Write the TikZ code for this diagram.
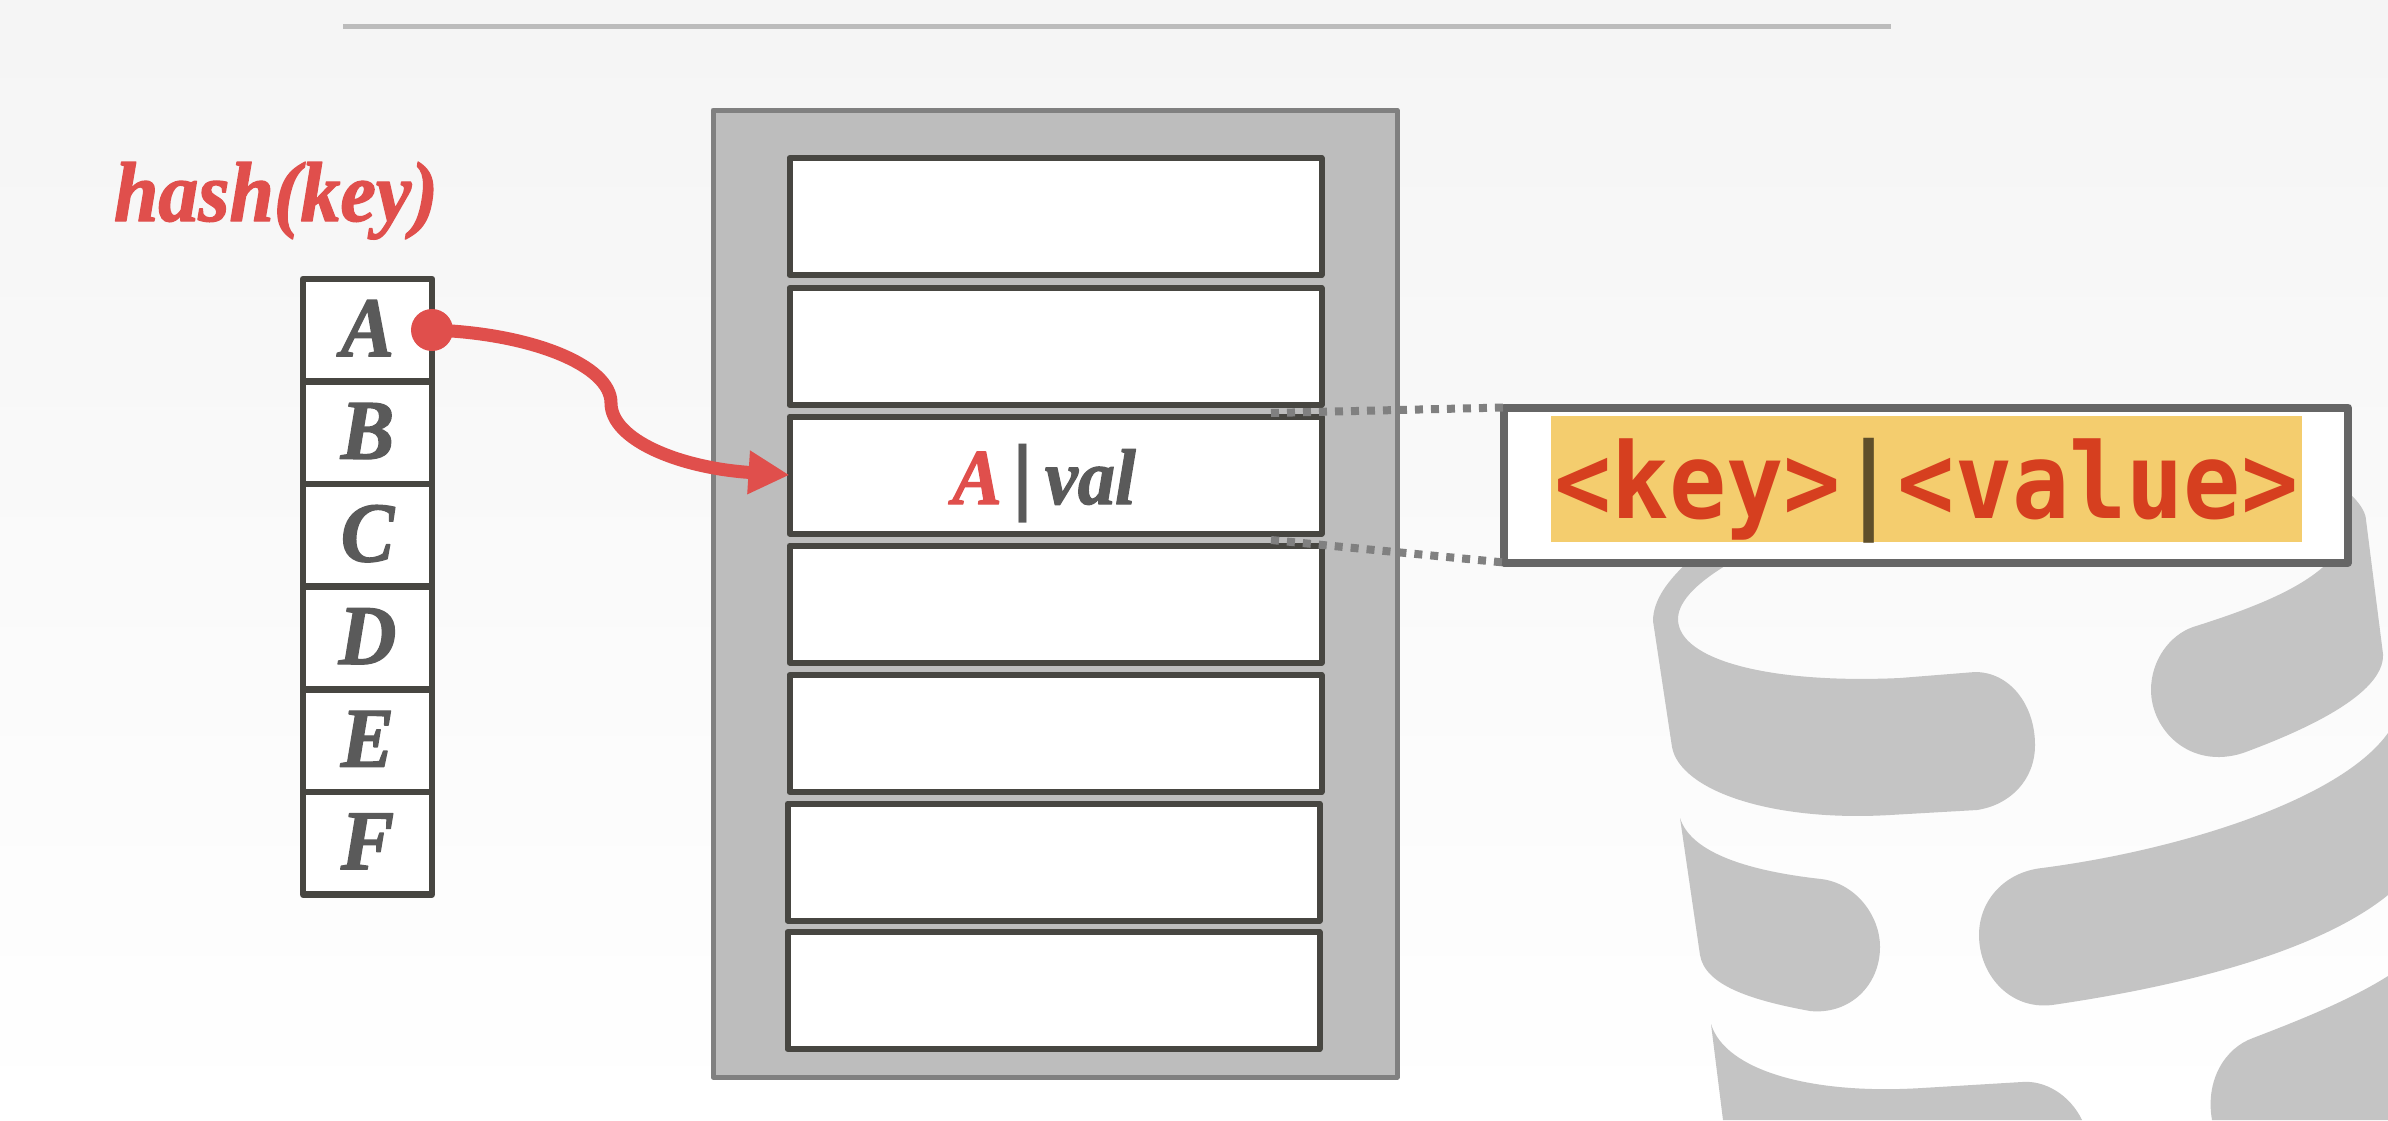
\documentclass[tikz,border=0pt]{standalone}
\usepackage{fontspec}
\setmainfont{Liberation Serif}[FakeStretch=0.94,BoldItalicFeatures={FakeBold=1.6}]
\newfontfamily\kvfont{DejaVu Sans Mono}[FakeStretch=0.905]
\usetikzlibrary{positioning,arrows.meta}
\definecolor{hashred}{HTML}{E04F4C}
\definecolor{inkdark}{HTML}{474641}
\definecolor{inkgrey}{HTML}{5A5A5A}
\definecolor{pagegrey}{HTML}{BDBDBD}
\definecolor{pageedge}{HTML}{808080}
\definecolor{dbgrey}{HTML}{C4C4C4}
\definecolor{rulegrey}{HTML}{BCBCBC}
\definecolor{kvedge}{HTML}{666666}
\definecolor{kvfill}{HTML}{F4CD6E}
\definecolor{kvred}{HTML}{D63F1F}
\definecolor{kvbar}{HTML}{5F4F2A}
\begin{document}
\begin{tikzpicture}[x=1pt, y=-1pt, line join=round,
        every node/.append style={inner sep=0pt, outer sep=0pt}]
      \tikzstyle{letter} = [font=\bfseries\itshape\fontsize{85}{90}\selectfont]
      \tikzstyle{cell} = [letter, draw=inkdark, line width=6.5pt, fill=white, text=inkgrey,
        minimum width=129pt, minimum height=102.6pt, text height=52pt, text depth=0pt]
      \tikzstyle{slot} = [draw=inkdark, line width=6pt, fill=white,
        minimum width=532pt, minimum height=117pt]
      \tikzstyle{dotline} = [draw=pageedge, line width=8pt, dash pattern=on 8pt off 8pt]
      \shade[top color=black!4, bottom color=white] (0,0) rectangle (2388,1120);
      \useasboundingbox (0,0) rectangle (2388,1120);
      \draw[rulegrey, line width=5pt] (343,26) -- (1891,26);
      \fill[dbgrey] (1690,560) .. controls (1668,580) and (1653,600) .. (1653,621) -- (1672,747)
        .. controls (1680,790) and (1770,822) .. (1890,815) -- (1977,810)
        .. controls (2010,805) and (2035,780) .. (2035,745)
        .. controls (2035,705) and (2010,672) .. (1975,672) -- (1900,678)
        .. controls (1770,684) and (1678,660) .. (1678,619)
        .. controls (1678,600) and (1700,580) .. (1735,560) -- cycle;
      \fill[dbgrey] (2351,495) .. controls (2362,505) and (2366,515) .. (2366,520) -- (2383,654)
        .. controls (2385,695) and (2300,732) .. (2243,753)
        .. controls (2190,770) and (2151,730) .. (2151,690)
        .. controls (2151,660) and (2170,635) .. (2193,627)
        .. controls (2260,606) and (2310,585) .. (2335,555) -- cycle;
      \fill[dbgrey] (1680,818) .. controls (1690,850) and (1740,870) .. (1821,879)
        .. controls (1855,883) and (1880,915) .. (1880,947)
        .. controls (1880,985) and (1850,1015) .. (1810,1011)
        .. controls (1750,1000) and (1705,985) .. (1700,955) -- cycle;
      \fill[dbgrey] (2042,868) .. controls (2180,850) and (2340,800) .. (2388,733) -- (2388,895)
        .. controls (2320,950) and (2190,985) .. (2052,1005)
        .. controls (2010,1010) and (1979,975) .. (1979,935)
        .. controls (1979,900) and (2005,872) .. (2042,868) -- cycle;
      \fill[dbgrey] (1711,1024) .. controls (1725,1070) and (1810,1095) .. (1922,1088) -- (2022,1082)
        .. controls (2045,1080) and (2070,1095) .. (2082,1120) -- (1723,1120) -- cycle;
      \fill[dbgrey] (2388,976) .. controls (2350,1000) and (2300,1020) .. (2253,1038)
        .. controls (2225,1048) and (2205,1080) .. (2212,1120) -- (2388,1120) -- cycle;
      \node (page) [draw=pageedge, line width=5pt, fill=pagegrey, minimum width=684pt, minimum height=967pt] at (1055,593.5) {};
      \node (slot1) [slot] at (1055.5,216.5) {};
      \node (slot2) [slot] at (1055.5,346.5) {};
      \node (slot3) [slot] at (1055.5,475) {};
      \node (slot4) [slot] at (1055.5,604) {};
      \node (slot5) [slot] at (1055.5,733.5) {};
      \node (slot6) [slot] at (1053.5,862) {};
      \node (slot7) [slot] at (1053.5,990.5) {};
      \node (pair) [text=inkgrey, font=\bfseries\itshape\fontsize{79}{84}\selectfont, text height=58pt, text depth=0pt] at (1044,475)
        {\textcolor{hashred}{A}{\kvfont\bfseries|}val};
      \node (kvbox) [draw=kvedge, line width=8pt, fill=white, minimum width=844pt, minimum height=155pt] at (1926,485) {};
      \node (kvtext) [fill=kvfill, minimum width=751pt, minimum height=126pt, text=kvred, text height=78pt, text depth=0pt,
        font=\kvfont\bfseries\fontsize{105}{110}\selectfont] at (1926.5,479)
        {<key>\textcolor{kvbar}{|}<value>};
      \coordinate (dotup) at (1271,413);
      \coordinate (dotlow) at (1271,540);
      \draw[dotline] (dotup) -- (kvbox.north west);
      \draw[dotline] (dotlow) -- (kvbox.south west);
      \node (hash) [letter, text=hashred, anchor=base west] at (114,221) {hash(key)};
      \node (A) [cell] at (367.5,330.2) {A};
      \node (B) [cell, below=0pt of A] {B};
      \node (C) [cell, below=0pt of B] {C};
      \node (D) [cell, below=0pt of C] {D};
      \node (E) [cell, below=0pt of D] {E};
      \node (F) [cell, below=0pt of E] {F};
      \node (dotA) [circle, fill=hashred, minimum size=42pt] at (432,330) {};
      \draw[hashred, line width=13pt, -{Triangle[length=41pt,width=41pt]}] (dotA.center)
        .. controls (530,333) and (611,365) .. (611,403)
        .. controls (611,440) and (680,468) .. (slot3.west);
    \end{tikzpicture}
\end{document}
